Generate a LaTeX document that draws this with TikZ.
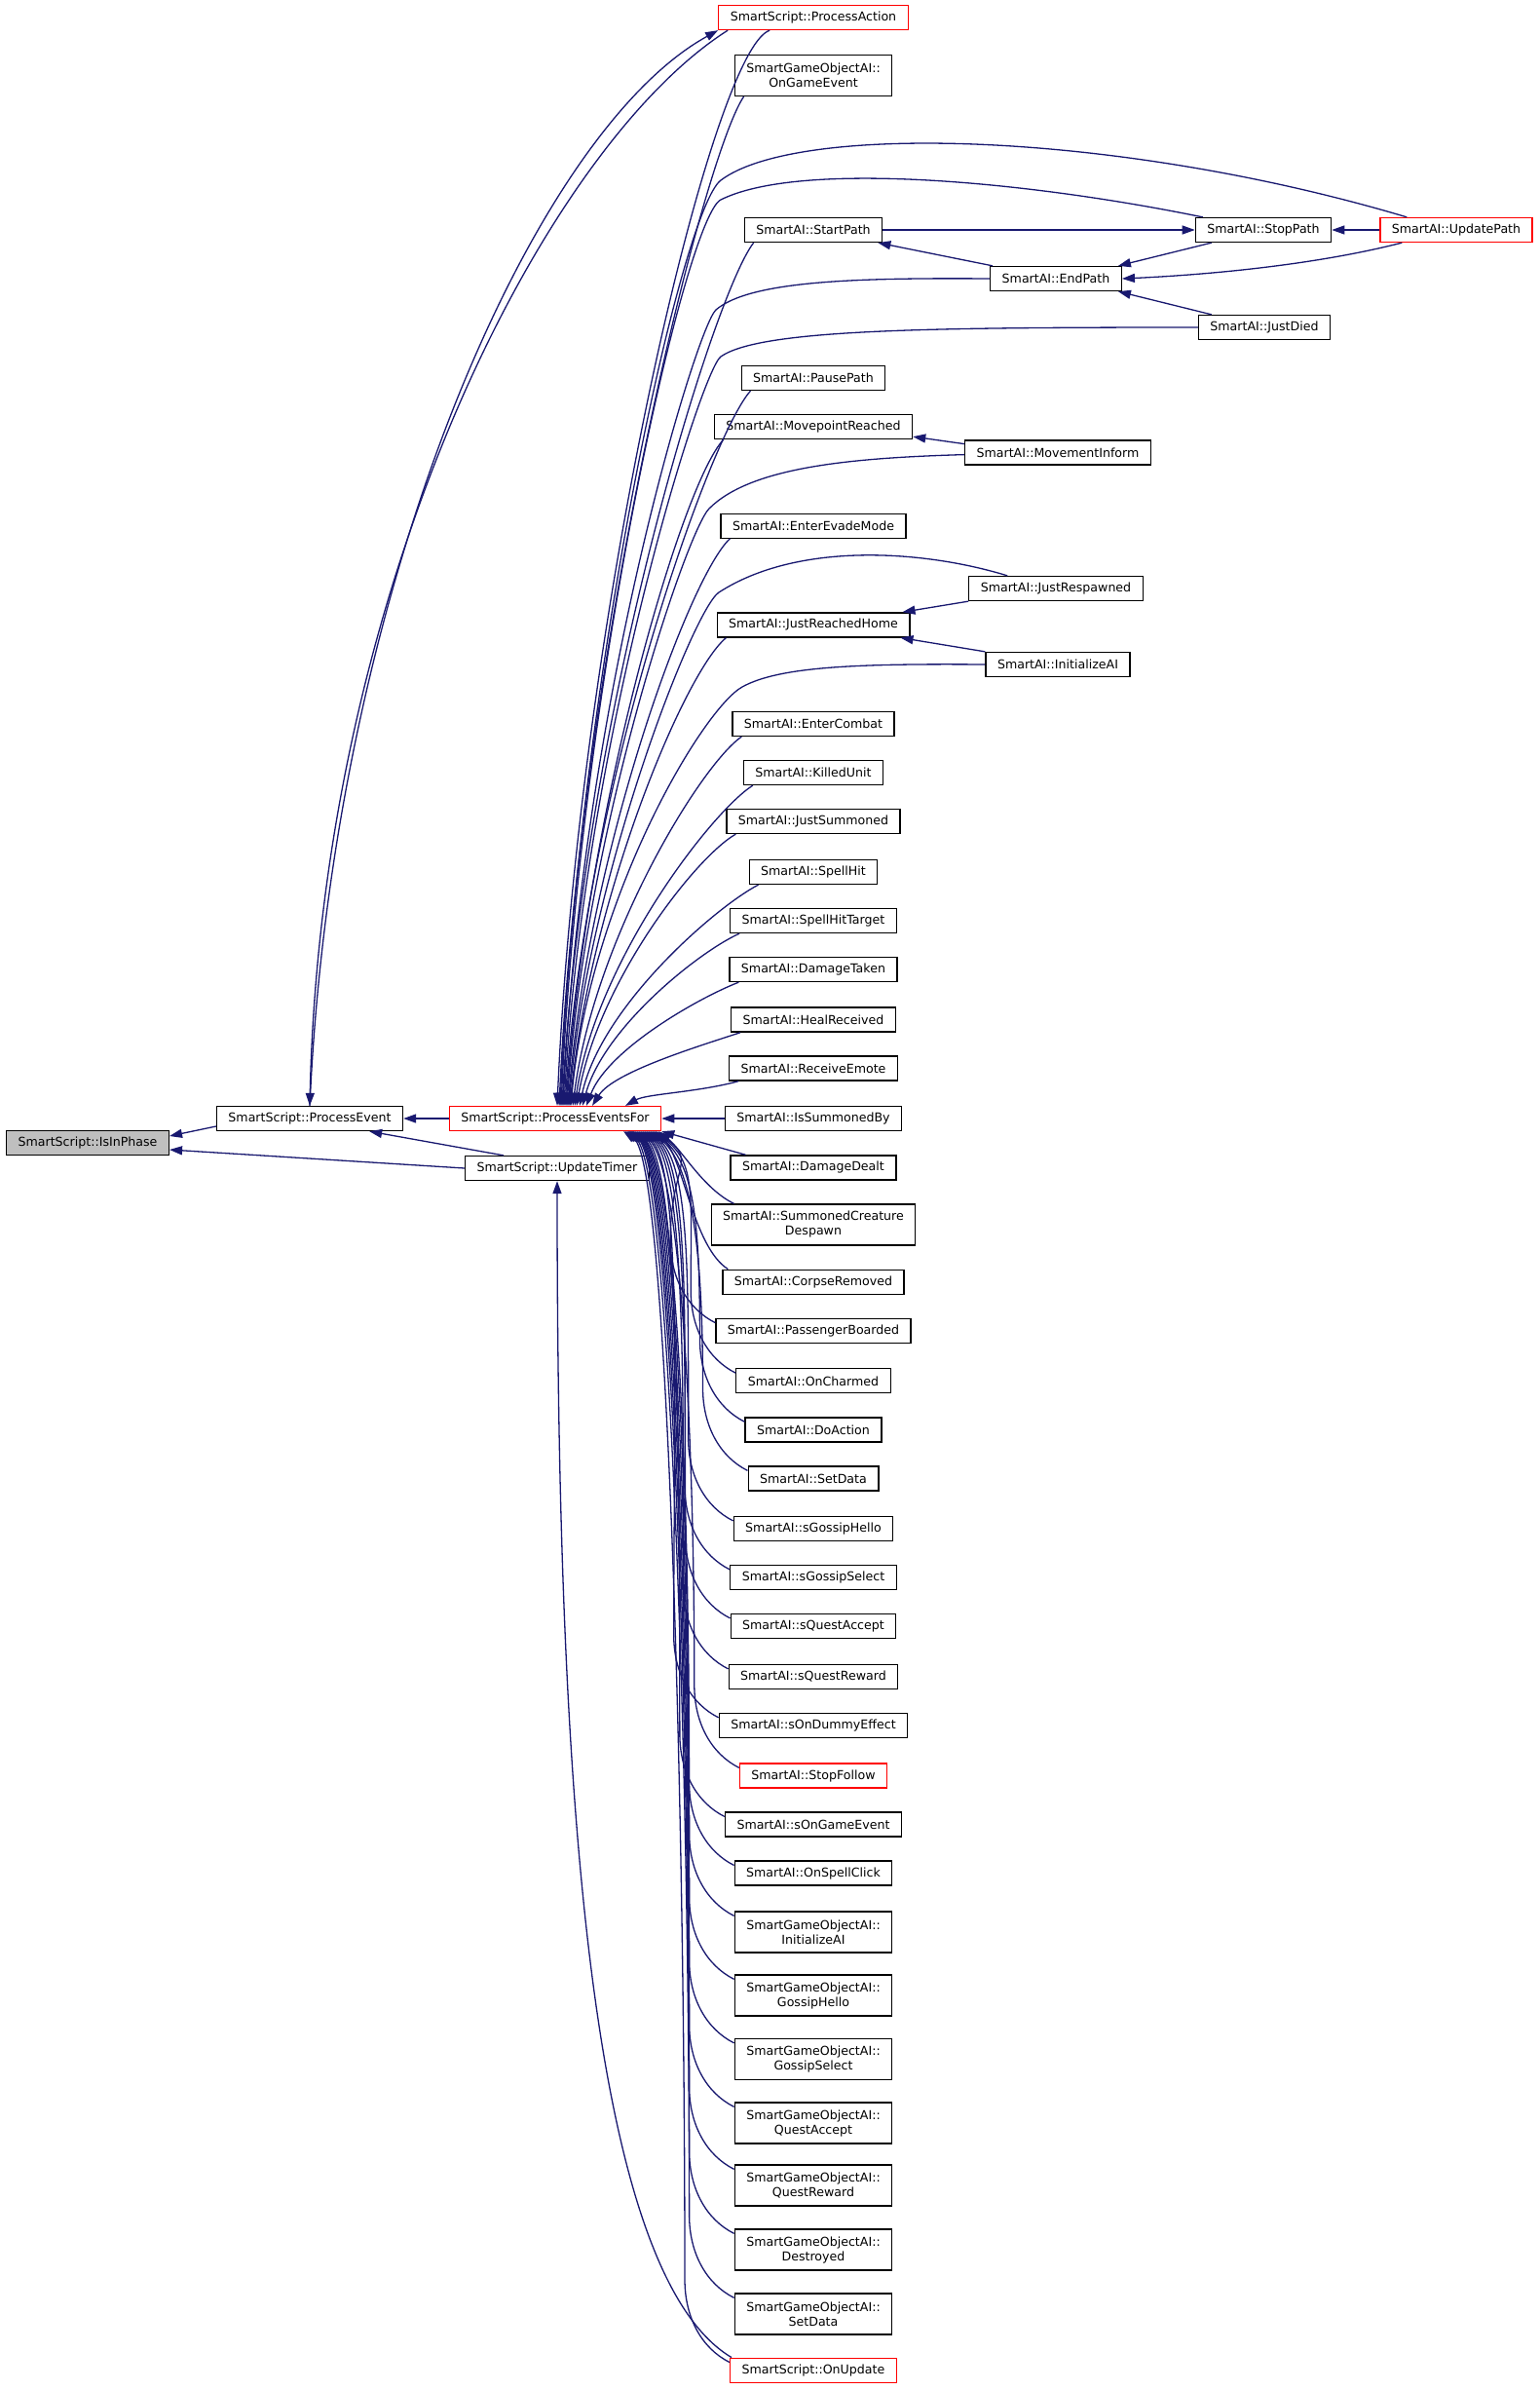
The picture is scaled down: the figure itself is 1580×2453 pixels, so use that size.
\documentclass[tikz,border=0pt]{standalone}
\usepackage{fontspec}
\setmainfont{DejaVu Sans}
\usetikzlibrary{arrows.meta, calc}
\definecolor{edgeblue}{HTML}{191970}
\definecolor{cyclered}{HTML}{FF0000}
\definecolor{focusgray}{HTML}{BFBFBF}

\begin{document}
\begin{tikzpicture}[x=1pt, y=-1pt, >={Triangle[length=13pt, width=9pt]},
  fnbox/.style={draw=black, line width=1.3pt, fill=white, minimum height=25pt,
    inner xsep=12pt, inner ysep=2pt, align=center,
    font=\fontsize{12.6}{15}\selectfont},
  redbox/.style={fnbox, draw=cyclered},
  twoline/.style={minimum height=42pt},
  calledge/.style={draw=edgeblue, line width=1.3pt, ->}]

\path[use as bounding box, fill=white] (0,0) rectangle (1580,2453);

% =====================================================
% Left: the function and its direct callers
% =====================================================
\node[fnbox, fill=focusgray] (isinphase) at (90,1173) {SmartScript::IsInPhase};
\node[fnbox] (pevent) at (318,1148) {SmartScript::ProcessEvent};
\node[redbox] (pefor) at (570,1148) {SmartScript::ProcessEventsFor};
\node[fnbox] (utimer) at (572,1199) {SmartScript::UpdateTimer};

% =====================================================
% Right column: callers of ProcessEventsFor
% =====================================================
\node[redbox] (paction) at (835,18) {SmartScript::ProcessAction};
\node[fnbox, twoline] (ogevent) at (835,77.4) {SmartGameObjectAI::\\OnGameEvent};
\node[fnbox] (startpath) at (835,236) {SmartAI::StartPath};
\node[fnbox] (stoppath) at (1297,236) {SmartAI::StopPath};
\node[redbox] (updpath) at (1495,236) {SmartAI::UpdatePath};
\node[fnbox] (endpath) at (1084,286) {SmartAI::EndPath};
\node[fnbox] (justdied) at (1298,336) {SmartAI::JustDied};
\node[fnbox] (pausepath) at (835,388) {SmartAI::PausePath};
\node[fnbox] (mvreached) at (835,438) {SmartAI::MovepointReached};
\node[fnbox] (mvinform) at (1086,464.6) {SmartAI::MovementInform};
\node[fnbox] (evade) at (835,539.7) {SmartAI::EnterEvadeMode};
\node[fnbox] (jrespawn) at (1084,604) {SmartAI::JustRespawned};
\node[fnbox] (jrhome) at (835,641.4) {SmartAI::JustReachedHome};
\node[fnbox] (initai) at (1086,682) {SmartAI::InitializeAI};
\node[fnbox] (entcombat) at (835,743) {SmartAI::EnterCombat};
\node[fnbox] (killed) at (835,793) {SmartAI::KilledUnit};
\node[fnbox] (jsummoned) at (835,843) {SmartAI::JustSummoned};
\node[fnbox] (spellhit) at (835,895) {SmartAI::SpellHit};
\node[fnbox] (spelltgt) at (835,945) {SmartAI::SpellHitTarget};
\node[fnbox] (dmgtaken) at (835,995) {SmartAI::DamageTaken};
\node[fnbox] (healrecv) at (835,1046.6) {SmartAI::HealReceived};
\node[fnbox] (emote) at (835,1096.6) {SmartAI::ReceiveEmote};
\node[fnbox] (issumby) at (835,1148) {SmartAI::IsSummonedBy};
\node[fnbox] (dmgdealt) at (835,1198.4) {SmartAI::DamageDealt};
\node[fnbox, twoline] (scdespawn) at (835,1257) {SmartAI::SummonedCreature\\Despawn};
\node[fnbox] (corpse) at (835,1315.7) {SmartAI::CorpseRemoved};
\node[fnbox] (passenger) at (835,1365.7) {SmartAI::PassengerBoarded};
\node[fnbox] (charmed) at (835,1417.3) {SmartAI::OnCharmed};
\node[fnbox] (doaction) at (835,1467.4) {SmartAI::DoAction};
\node[fnbox] (setdata) at (835,1517.5) {SmartAI::SetData};
\node[fnbox] (sghello) at (835,1569) {SmartAI::sGossipHello};
\node[fnbox] (sgselect) at (835,1619) {SmartAI::sGossipSelect};
\node[fnbox] (sqaccept) at (835,1669) {SmartAI::sQuestAccept};
\node[fnbox] (sqreward) at (835,1721) {SmartAI::sQuestReward};
\node[fnbox] (sdummy) at (835,1771) {SmartAI::sOnDummyEffect};
\node[redbox] (stopfollow) at (835,1822.5) {SmartAI::StopFollow};
\node[fnbox] (sogevent) at (835,1872.6) {SmartAI::sOnGameEvent};
\node[fnbox] (spellclick) at (835,1922.6) {SmartAI::OnSpellClick};
\node[fnbox, twoline] (goinit) at (835,1983) {SmartGameObjectAI::\\InitializeAI};
\node[fnbox, twoline] (gohello) at (835,2048) {SmartGameObjectAI::\\GossipHello};
\node[fnbox, twoline] (goselect) at (835,2113.5) {SmartGameObjectAI::\\GossipSelect};
\node[fnbox, twoline] (goaccept) at (835,2179) {SmartGameObjectAI::\\QuestAccept};
\node[fnbox, twoline] (goreward) at (835,2243) {SmartGameObjectAI::\\QuestReward};
\node[fnbox, twoline] (godestroy) at (835,2309) {SmartGameObjectAI::\\Destroyed};
\node[fnbox, twoline] (gosetdata) at (835,2375) {SmartGameObjectAI::\\SetData};
\node[redbox] (onupdate) at (835,2432.7) {SmartScript::OnUpdate};

% =====================================================
% Calls on the left
% =====================================================
\draw[calledge] ($(pevent.west)+(0,8)$) -- ($(isinphase.east)+(0,-7)$);
\draw[calledge] (utimer.west) -- ($(isinphase.east)+(0,7)$);
\draw[calledge] (pefor.west) -- (pevent.east);
\draw[calledge] ($(utimer.north west)+(40,0)$) -- ($(pevent.south east)+(-35,0)$);
\draw[calledge] ($(paction.south west)+(10,0)$) .. controls (560,150) and (330,600) .. (pevent.north);
\draw[calledge] (pevent.north) .. controls (342,600) and (548,135) .. (paction.south west);
\draw[calledge] ($(onupdate.north west)+(2,0)$) .. controls (600,2330) and (572,1800) .. (utimer.south);
\draw[calledge] (issumby.west) -- (pefor.east);

% =====================================================
% Path handling cluster (top right)
% =====================================================
\draw[calledge] (startpath.east) -- (stoppath.west);
\draw[calledge] (updpath.west) -- (stoppath.east);
\draw[calledge] ($(endpath.north west)+(3,0)$) -- ($(startpath.south east)+(-5,0)$);
\draw[calledge] ($(stoppath.south west)+(17,0)$) -- ($(endpath.north east)+(-4,0)$);
\draw[calledge] ($(updpath.south west)+(23,0)$) .. controls (1350,272) and (1240,282) .. (endpath.east);
\draw[calledge] ($(justdied.north west)+(14,0)$) -- ($(endpath.south east)+(-4,0)$);
\draw[calledge] ($(mvinform.west)+(0,-9)$) -- ($(mvreached.south east)+(0,-3)$);
\draw[calledge] (jrespawn.south west) -- ($(jrhome.north east)+(-8,0)$);
\draw[calledge] (initai.north west) -- ($(jrhome.south east)+(-10,0)$);

% =====================================================
% Long calls into ProcessEventsFor (from above)
% =====================================================
\draw[calledge] ($(paction.south west)+(53,0)$) .. controls +(-60,20) and +(22,-500) .. ($(pefor.north)+(2,0)$);
\draw[calledge] ($(updpath.north west)+(28,0)$) .. controls (1150,135) and (820,125) .. (740,185)
  .. controls (700,215) and (596,686) .. ($(pefor.north)+(5,0)$);
\draw[calledge] ($(stoppath.north west)+(8,0)$) .. controls (1050,185) and (820,165) .. (740,205)
  .. controls (705,222) and (597,690) .. ($(pefor.north)+(6,0)$);
\draw[calledge] (endpath.west) .. controls (880,285) and (770,288) .. (735,318)
  .. controls (715,336) and (598,720) .. ($(pefor.north)+(8,0)$);
\draw[calledge] (justdied.west) .. controls (950,336) and (780,338) .. (740,366)
  .. controls (720,380) and (600,760) .. ($(pefor.north)+(9,0)$);
\draw[calledge] ($(mvinform.west)+(0,2)$) .. controls (870,470) and (770,480) .. (728,522)
  .. controls (705,545) and (602,850) .. ($(pefor.north)+(12,0)$);
\draw[calledge] ($(jrespawn.north west)+(40,0)$) .. controls (950,565) and (820,555) .. (738,608)
  .. controls (712,625) and (604,900) .. ($(pefor.north)+(14,0)$);
\draw[calledge] (initai.west) .. controls (880,681) and (800,684) .. (762,705)
  .. controls (722,727) and (606,920) .. ($(pefor.north)+(16,0)$);

% column callers above: name / drop / arrow offset
\foreach \n/\dy/\o in {ogevent/1038/4, startpath/887/7, pausepath/736/10, mvreached/685/11,
    evade/584/13, jrhome/482/15, entcombat/380/18, killed/330/20, jsummoned/280/22,
    spellhit/228/25, spelltgt/178/28, dmgtaken/128/32, healrecv/77/38, emote/27/72}
  \draw[calledge] ($(\n.south west)+(10,0)$) .. controls +(-42,{0.05*\dy+10})
    and +(22,{-0.45*\dy}) .. ($(pefor.north)+(\o,0)$);

% =====================================================
% Long calls into ProcessEventsFor (from below)
% =====================================================
\draw[calledge] ($(dmgdealt.north west)+(16,0)$) -- (pefor.south east);
\draw[calledge] ($(scdespawn.north west)+(24,0)$) .. controls (722,1220) and (700,1180) .. ($(pefor.south)+(106,0)$);
\draw[calledge] ($(corpse.north west)+(6,0)$) .. controls (712,1280) and (702,1192) .. ($(pefor.south)+(104,0)$);

% column callers below: name / drop / arrow offset
\foreach \n/\dy/\o in {passenger/192/102, charmed/244/100, doaction/294/98, setdata/344/96,
    sghello/395/94, sgselect/445/92, sqaccept/495/90, sqreward/547/88, sdummy/597/86,
    stopfollow/649/84, sogevent/699/82, spellclick/749/80, goinit/801/79, gohello/866/78,
    goselect/931/77, goaccept/997/76, goreward/1061/75, godestroy/1127/74,
    gosetdata/1193/72, onupdate/1259/70}
  \draw[calledge] ($(\n.north west)+(0,5)$) .. controls +(-28,-14) and +(0,40)
    .. ($(\n.north west)+(-46,-80)$) .. controls +(0,{-0.4*\dy}) and +(45,30)
    .. ($(pefor.south)+(\o,0)$);

\end{tikzpicture}
\end{document}
